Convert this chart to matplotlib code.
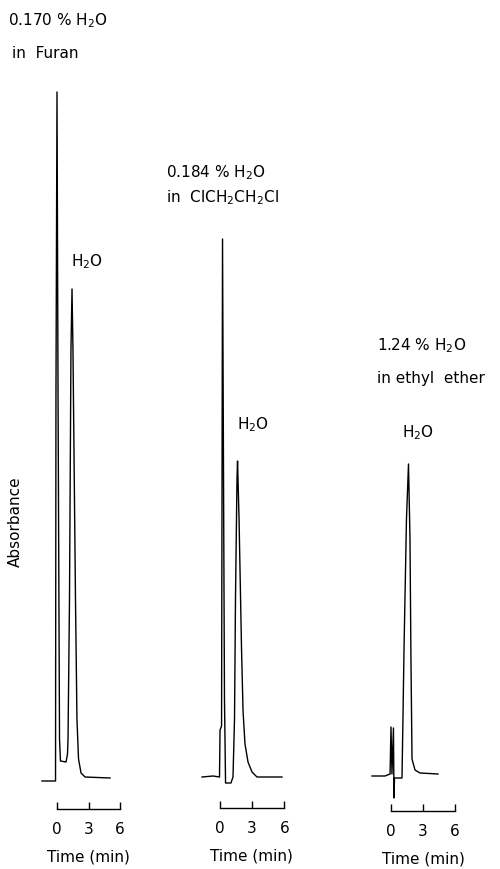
import matplotlib
matplotlib.use("Agg")
import matplotlib.pyplot as plt

# Chromatogram traces (time in min, absorbance in arbitrary units, baseline = 0)
furan_t = [-1.43, -0.14, -0.10, 0.00, 0.10, 0.24, 0.33, 0.86, 1.00, 1.05, 1.19, 1.33,
           1.43, 1.52, 1.76, 1.90, 2.05, 2.29, 2.67, 5.05]
furan_a = [0.0, 0.0, 38.2, 68.9, 38.2, 4.2, 2.0, 1.9, 2.7, 4.2, 18.2, 43.2,
           49.2, 43.2, 18.2, 6.2, 2.2, 0.8, 0.4, 0.3]

dce_t = [-1.62, -0.60, 0.00, 0.05, 0.19, 0.28, 0.46, 0.56, 1.06, 1.25, 1.39, 1.48,
         1.62, 1.67, 1.81, 2.04, 2.18, 2.36, 2.64, 3.01, 3.47, 5.79]
dce_a = [0.0, 0.1, 0.0, 4.7, 5.1, 53.8, 7.8, -0.6, -0.6, 0.0, 5.8, 17.8,
         29.8, 31.6, 25.8, 12.8, 6.6, 3.3, 1.5, 0.5, 0.0, 0.0]

ether_t = [-1.78, -0.56, -0.09, 0.00, 0.09, 0.23, 0.28, 0.33, 1.03, 1.12, 1.22,
           1.45, 1.64, 1.78, 1.87, 1.97, 2.25, 2.72, 4.40]
ether_a = [-0.1, -0.1, 0.1, 4.8, 0.1, 4.7, -2.3, -0.3, -0.3, 5.6, 12.6,
           25.6, 31.1, 23.6, 11.6, 1.6, 0.5, 0.2, 0.1]

titles = [("0.170 % H$_2$O", "in  Furan"),
          ("0.184 % H$_2$O", "in  ClCH$_2$CH$_2$Cl"),
          ("1.24 % H$_2$O", "in ethyl  ether")]
peak_label = "H$_2$O"
peak_label_pos = [(1.33, 52.0), (1.62, 35.3), (1.03, 34.3)]
time_ticks = [0, 3, 6]

W, H = 500, 870
fig = plt.figure(figsize=(W / 100, H / 100), dpi=100, facecolor="white")

def fx(x):
    return x / W

def fy(y):
    return 1 - y / H

# panel geometry in pixels: time-0 x, px per min, baseline y, scale bar y
panels = [(57.0, 10.5, 782, 810), (219.5, 10.8, 778, 809), (391.0, 10.67, 776, 812)]
title_px = [((8, 21), (12, 53)), ((166, 173), (166, 198)), ((377, 346), (377, 379))]
traces = [(furan_t, furan_a), (dce_t, dce_a), (ether_t, ether_a)]

PX_PER_UNIT = 10.0
TMIN, TMAX, ATOP = -2.0, 6.5, 72.0

for (x0, sx, yb, ybar), (t, a), lab, (tl1, tl2), tt in zip(panels, traces, peak_label_pos, title_px, titles):
    left_px = x0 + TMIN * sx
    width_px = (TMAX - TMIN) * sx
    top_px = yb - ATOP * PX_PER_UNIT
    height_px = ybar - top_px
    ax = fig.add_axes([fx(left_px), fy(ybar), width_px / W, height_px / H])
    ax.set_xlim(TMIN, TMAX)
    ax.set_ylim(-(ybar - yb) / PX_PER_UNIT, ATOP)
    ax.patch.set_visible(False)

    ax.plot(t, a, color="black", lw=1.0, clip_on=False)
    ax.text(lab[0], lab[1], peak_label, fontsize=11, ha="left", va="center")

    for s in ("top", "right", "left"):
        ax.spines[s].set_visible(False)
    ax.spines["bottom"].set_bounds(0, 6)
    ax.spines["bottom"].set_linewidth(1.0)
    ax.set_yticks([])
    ax.set_xticks(time_ticks)
    ax.set_xticklabels([str(v) for v in time_ticks])
    ax.tick_params(axis="x", direction="in", length=5, width=1.0, pad=9, labelsize=11)
    ax.set_xlabel("Time (min)", fontsize=11)
    ax.xaxis.set_label_coords((3 - TMIN) / (TMAX - TMIN), -40 / height_px)

    fig.text(fx(tl1[0]), fy(tl1[1]), tt[0], fontsize=11, ha="left", va="center")
    fig.text(fx(tl2[0]), fy(tl2[1]), tt[1], fontsize=11, ha="left", va="center")

fig.text(fx(15), fy(522), "Absorbance", fontsize=11, rotation=90, ha="center", va="center")

fig.savefig("out.png", dpi=100, facecolor="white")
